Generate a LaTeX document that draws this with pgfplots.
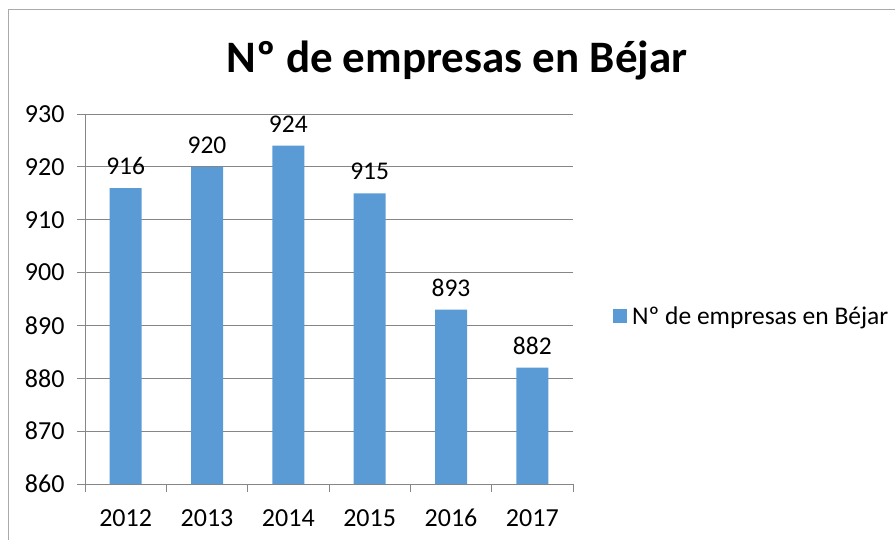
\documentclass[border=0pt]{standalone}
\usepackage{fontspec}
\setmainfont{Carlito}
\usepackage{pgfplots}
\pgfplotsset{compat=1.18}
\definecolor{barblue}{HTML}{5B9BD5}
\definecolor{gridgray}{HTML}{868686}
\begin{document}
\begin{tikzpicture}
\useasboundingbox (0bp,0bp) rectangle (895bp,-540bp);
\draw[color=gridgray!70, line width=1bp] (8bp,-540bp) -- (8bp,-9bp) -- (895bp,-9bp);
\node[font=\fontsize{45bp}{54bp}\selectfont\bfseries, anchor=base] at (457bp,-72bp) {Nº de empresas en Béjar};
\begin{axis}[
  at={(85bp,-484bp)}, anchor=south west, scale only axis,
  width=488bp, height=370bp,
  clip=false,
  ymin=860, ymax=930, ytick={860,870,...,930},
  xmin=-0.5, xmax=5.5,
  xtick={0,...,5}, xticklabels={2012,2013,2014,2015,2016,2017},
  minor xtick={-0.5,0.5,...,5.5},
  axis x line*=bottom, axis y line*=left,
  axis line style={draw=gridgray, line width=0.8bp, -},
  tick align=outside,
  major tick length=8bp, minor tick length=8bp,
  major x tick style={draw=none},
  minor x tick style={draw=gridgray, line width=0.8bp},
  ytick style={draw=gridgray, line width=0.8bp},
  ymajorgrids, major grid style={draw=gridgray, line width=0.8bp},
  /pgf/number format/assume math mode=true,
  tick label style={font=\fontsize{26bp}{30bp}\selectfont},
  xticklabel style={yshift=-13bp, text height=18bp, text depth=0bp},
  yticklabel style={xshift=-9bp},
  ybar, bar width=32bp,
  nodes near coords,
  every node near coord/.append style={font=\fontsize{25.5bp}{30bp}\selectfont, black, yshift=10bp, text height=18bp, text depth=0bp},
  legend style={draw=none, at={(1,0.5)}, anchor=west, xshift=40bp, yshift=-17bp,
    font=\fontsize{25.5bp}{30bp}\selectfont, inner sep=0pt},
  legend image code/.code={\fill[barblue] (0bp,-7bp) rectangle (14bp,7bp);},
  legend cell align=left,
]
\addplot[fill=barblue, draw=none] coordinates {(0,916) (1,920) (2,924) (3,915) (4,893) (5,882)};
\addlegendentry{\hspace{3bp}Nº de empresas en Béjar}
\end{axis}
\end{tikzpicture}
\end{document}
